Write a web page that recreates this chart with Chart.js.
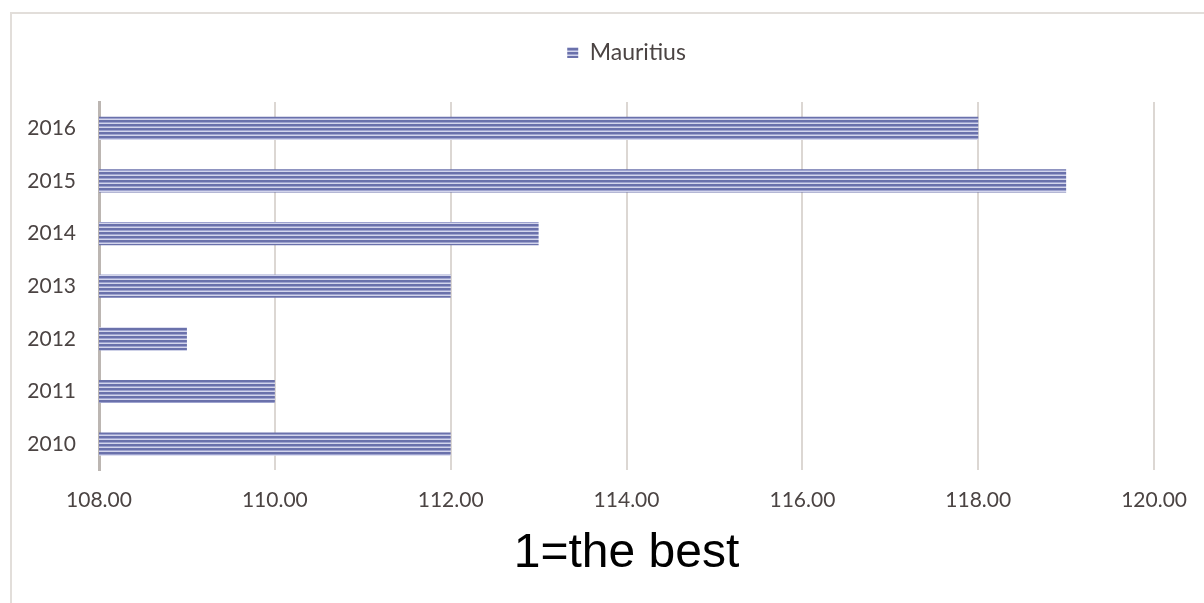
<!DOCTYPE html>
<html>
<head>
<meta charset="utf-8">
<script src="https://cdn.jsdelivr.net/npm/chart.js@4"></script>
<style>
  html, body { margin: 0; padding: 0; background: #fff; overflow: hidden; }
  #wrap { position: relative; width: 1204px; height: 603px; overflow: hidden; }
  #frame { position: absolute; left: 10px; top: 12px; width: 1300px; height: 700px; border: 2px solid #e2deda; }
  #c { position: absolute; left: 0; top: 0; }
</style>
</head>
<body>
<div id="wrap">
  <div id="frame"></div>
  <canvas id="c" width="1204" height="603"></canvas>
</div>
<script>
// Index per year, top to bottom
const years = ['2016', '2015', '2014', '2013', '2012', '2011', '2010'];
const mauritius = [118, 119, 113, 112, 109, 110, 112];
const seriesName = 'Mauritius';
const axisMin = 108;
const axisMax = 120;
const axisStep = 2;
const footerText = '1=the best';

const textColor = '#4b4443';
const tickFont = { family: 'Lato', size: 21 };

const canvas = document.getElementById('c');
const ctx = canvas.getContext('2d');

// Horizontal pin-stripe fill for the bars
function stripeFill() {
  const tile = document.createElement('canvas');
  tile.width = 4;
  tile.height = 4;
  const g = tile.getContext('2d');
  g.fillStyle = '#6a71ab'; g.fillRect(0, 0, 4, 2);
  g.fillStyle = '#9ea3cf'; g.fillRect(0, 2, 4, 1);
  g.fillStyle = '#d3d5eb'; g.fillRect(0, 3, 4, 1);
  return ctx.createPattern(tile, 'repeat');
}
const barFill = stripeFill();

new Chart(ctx, {
  type: 'bar',
  data: {
    labels: years,
    datasets: [{
      label: seriesName,
      data: mauritius,
      backgroundColor: barFill,
      borderWidth: 0,
      categoryPercentage: 1,
      barPercentage: 0.44
    }]
  },
  options: {
    indexAxis: 'y',
    responsive: false,
    animation: false,
    devicePixelRatio: 1,
    layout: { padding: { top: 31, right: 49, bottom: 0, left: 0 } },
    scales: {
      x: {
        type: 'linear',
        position: 'bottom',
        min: axisMin,
        max: axisMax,
        ticks: {
          stepSize: axisStep,
          padding: 17,
          color: textColor,
          font: tickFont,
          callback: v => Number(v).toFixed(2)
        },
        grid: { color: '#dcd7d3', lineWidth: 2, drawTicks: false },
        border: { display: false },
        afterFit: s => { s.height = 42; }
      },
      // empty band between the legend and the plot
      spacer: {
        type: 'linear',
        position: 'top',
        min: axisMin,
        max: axisMax,
        ticks: { display: false },
        grid: { display: false, drawTicks: false },
        border: { display: false },
        afterFit: s => { s.height = 28; }
      },
      y: {
        type: 'category',
        grid: { display: false, drawTicks: false },
        border: { display: true, color: '#bcb6b2', width: 3 },
        ticks: { padding: 23, color: textColor, font: tickFont },
        afterFit: s => { s.width = 99; }
      }
    },
    plugins: {
      legend: {
        display: true,
        position: 'top',
        fullSize: false,
        labels: {
          boxWidth: 11,
          boxHeight: 11,
          padding: 10,
          color: textColor,
          font: { family: 'Lato', size: 23 }
        }
      },
      title: {
        display: true,
        position: 'bottom',
        fullSize: false,
        text: footerText,
        color: '#000',
        font: { family: "'Liberation Sans', Arial, sans-serif", size: 48, weight: 'normal' },
        padding: { top: 13, bottom: 20 }
      },
      tooltip: { enabled: false }
    }
  }
});
</script>
</body>
</html>
